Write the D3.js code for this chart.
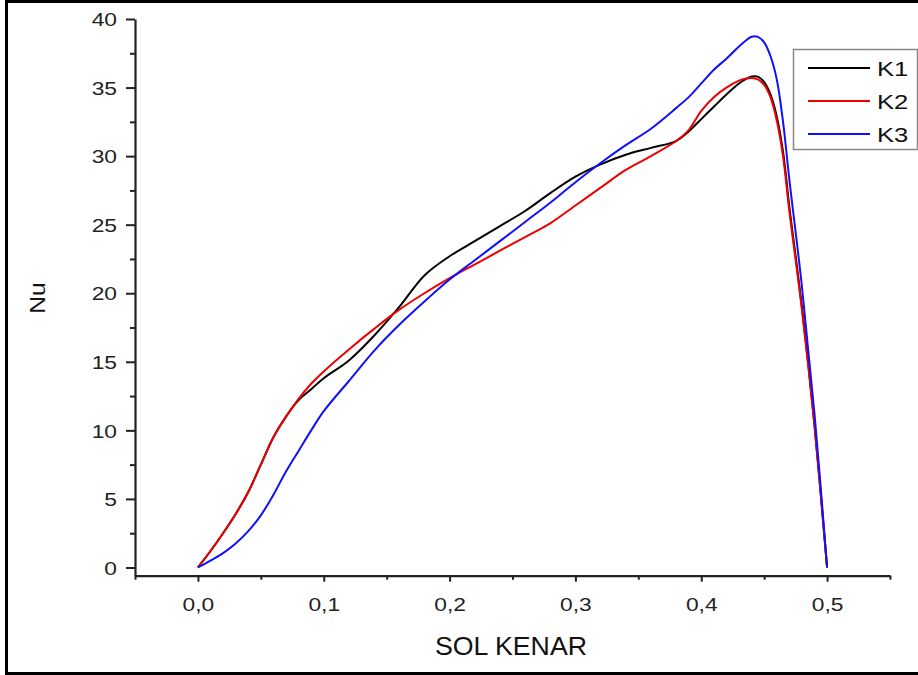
<!DOCTYPE html>
<html>
<head>
<meta charset="utf-8">
<script src="https://cdn.jsdelivr.net/npm/d3@7"></script>
<style>
  html, body { margin: 0; padding: 0; background: #fff; }
  svg { display: block; font-family: "Liberation Sans", Arial, sans-serif; }
</style>
</head>
<body>
<div id="chart"></div>
<script>
//values
const solKenar = [0, 0.01, 0.02, 0.03, 0.04, 0.05, 0.06, 0.07, 0.08, 0.09, 0.10,
  0.12, 0.14, 0.16, 0.18, 0.20, 0.22, 0.24, 0.26, 0.28, 0.30, 0.32, 0.34, 0.36,
  0.38, 0.39, 0.40, 0.41, 0.42, 0.43, 0.435, 0.44, 0.445, 0.45, 0.455, 0.46,
  0.465, 0.47, 0.48, 0.49, 0.50]
const k1 = [0, 1.2, 2.5, 3.9, 5.5, 7.5, 9.5, 11.0, 12.2, 13.0, 13.8,
  15.1, 16.9, 19.0, 21.3, 22.7, 23.8, 24.9, 26.0, 27.3, 28.5, 29.4, 30.1, 30.6,
  31.1, 31.8, 32.7, 33.6, 34.5, 35.3, 35.6, 35.8, 35.8, 35.4, 34.5, 32.9,
  30.3, 26.3, 19.0, 10.4, 0]
const k2 = [0, 1.2, 2.5, 3.9, 5.5, 7.5, 9.5, 11.0, 12.3, 13.4, 14.3,
  15.9, 17.4, 18.8, 20.0, 21.1, 22.1, 23.1, 24.1, 25.1, 26.4, 27.7, 29.0, 30.0,
  31.1, 31.9, 33.3, 34.3, 35.0, 35.5, 35.65, 35.7, 35.6, 35.2, 34.3, 32.6,
  30.0, 26.0, 18.8, 10.3, 0]
const k3 = [0, 0.5, 1.05, 1.75, 2.65, 3.8, 5.3, 7.0, 8.5, 10.0, 11.4,
  13.6, 15.8, 17.7, 19.4, 21.0, 22.4, 23.8, 25.2, 26.6, 28.1, 29.5, 30.8, 32.0,
  33.5, 34.3, 35.3, 36.3, 37.1, 38.0, 38.4, 38.7, 38.7, 38.3, 37.3, 35.6,
  32.5, 28.3, 20.5, 11.2, 0]
const seriesNames = ["K1", "K2", "K3"]
const seriesColors = ["#000000", "#ee0000", "#1010ff"]
const xMajorTicks = [0, 0.1, 0.2, 0.3, 0.4, 0.5]
const xMinorTicks = [-0.05, 0.05, 0.15, 0.25, 0.35, 0.45, 0.55]
const yMajorTicks = [0, 5, 10, 15, 20, 25, 30, 35, 40]
const yMinorTicks = [2.5, 7.5, 12.5, 17.5, 22.5, 27.5, 32.5, 37.5]

const width = 918
const height = 675
const plot = { left: 135, right: 890, top: 19, bottom: 575.7 }
const axisColor = "#222"

const svg = d3.select("#chart").append("svg")
  .attr("width", width)
  .attr("height", height)

//outer frame (right side runs off the picture)
svg.append("rect")
  .attr("x", 6.5).attr("y", 1.5)
  .attr("width", width + 10).attr("height", 672)
  .attr("fill", "none")
  .attr("stroke", "#000")
  .attr("stroke-width", 3)

const x = d3.scaleLinear([-0.05, 0.55], [plot.left, plot.right])
const y = d3.scaleLinear([-0.6, 40], [plot.bottom, plot.top])

const commaFormat = d => d3.format(".1f")(d).replace(".", ",")

//minor ticks first, no labels
svg.append("g")
  .attr("transform", `translate(0,${plot.bottom})`)
  .call(d3.axisBottom(x).tickValues(xMinorTicks).tickSize(4).tickFormat(""))
  .call(g => g.select(".domain").remove())
svg.append("g")
  .attr("transform", `translate(${plot.left},0)`)
  .call(d3.axisLeft(y).tickValues(yMinorTicks).tickSize(5).tickFormat(""))
  .call(g => g.select(".domain").remove())

const xAxis = svg.append("g")
  .attr("transform", `translate(0,${plot.bottom})`)
  .call(d3.axisBottom(x).tickValues(xMajorTicks).tickSize(6).tickSizeOuter(0).tickFormat(commaFormat))
xAxis.selectAll("text")
  .attr("y", 35)
  .attr("dy", 0)
  .attr("transform", "scale(1.2,1)")

const yAxis = svg.append("g")
  .attr("transform", `translate(${plot.left},0)`)
  .call(d3.axisLeft(y).tickValues(yMajorTicks).tickSize(9).tickSizeOuter(0))
yAxis.selectAll("text")
  .attr("x", -15)
  .attr("dy", "0.35em")
  .attr("transform", "scale(1.2,1)")

svg.selectAll(".tick line").attr("stroke", axisColor).attr("stroke-width", 2)
svg.selectAll(".domain").attr("stroke", axisColor).attr("stroke-width", 2.2)
svg.selectAll(".tick text")
  .attr("fill", "#222")
  .attr("font-size", 19)
  .attr("font-family", "'Liberation Sans', Arial, sans-serif")

//axis titles
svg.append("text")
  .attr("transform", "translate(511,655) scale(1.07,1)")
  .attr("text-anchor", "middle")
  .attr("font-size", 25)
  .attr("fill", "#111")
  .text("SOL KENAR")
svg.append("text")
  .attr("transform", "translate(45,298) rotate(-90) scale(1.12,1)")
  .attr("text-anchor", "middle")
  .attr("font-size", 22)
  .attr("fill", "#111")
  .text("Nu")

//curves
const allSeries = [k1, k2, k3]
const line = d3.line()
  .x((d, i) => x(solKenar[i]))
  .y(d => y(d))
  .curve(d3.curveCatmullRom.alpha(0.5))

svg.append("g")
  .selectAll("path")
  .data(allSeries)
  .join("path")
  .attr("d", d => line(d))
  .attr("fill", "none")
  .attr("stroke", (d, i) => seriesColors[i])
  .attr("stroke-width", 2)

//legend
const legend = svg.append("g").attr("transform", "translate(793,49)")
legend.append("rect")
  .attr("x", 0.5).attr("y", 0.5)
  .attr("width", 124).attr("height", 100)
  .attr("fill", "#fff")
  .attr("stroke", "#888")
  .attr("stroke-width", 1.5)

seriesNames.forEach((name, i) => {
  const rowY = 19 + i * 33
  legend.append("line")
    .attr("x1", 15).attr("x2", 77)
    .attr("y1", rowY).attr("y2", rowY)
    .attr("stroke", seriesColors[i])
    .attr("stroke-width", 2)
  legend.append("text")
    .attr("transform", `translate(84,${rowY}) scale(1.22,1)`)
    .attr("dy", "0.36em")
    .attr("font-size", 21)
    .attr("fill", "#111")
    .text(name)
})
</script>
</body>
</html>
